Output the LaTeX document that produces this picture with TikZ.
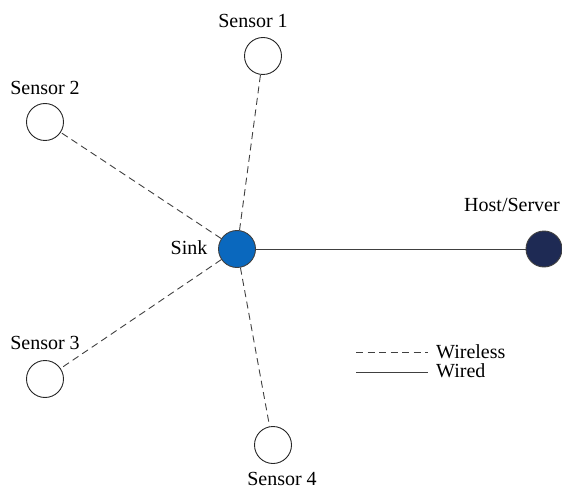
\documentclass[tikz,border=0pt]{standalone}
\usepackage{fontspec}
\setmainfont{Liberation Serif}
\begin{document}
\begin{tikzpicture}[x=1pt,y=-1pt,
  sensor/.style={circle,draw=black!85,line width=0.9pt,fill=white,minimum size=37pt,inner sep=0pt},
  sinknode/.style={circle,draw=black!75,line width=0.9pt,fill={rgb,255:red,10;green,104;blue,190},minimum size=37pt,inner sep=0pt},
  hostnode/.style={circle,draw=black!75,line width=0.9pt,fill={rgb,255:red,30;green,42;blue,84},minimum size=36pt,inner sep=0pt},
  lbl/.style={font=\fontsize{20}{22}\selectfont,inner sep=0pt},
  wireless/.style={draw=black!75,line width=0.9pt,dash pattern=on 7pt off 4.5pt},
  wired/.style={draw=black!75,line width=0.9pt}]
\useasboundingbox (0,0) rectangle (562,489);
% nodes
\node[sinknode] (sink) at (237,249) {};
\node[hostnode] (host) at (544,249) {};
\node[sensor] (s1) at (263,56) {};
\node[sensor] (s2) at (45,122) {};
\node[sensor] (s3) at (45,379) {};
\node[sensor] (s4) at (273,445) {};
% labels
\node[lbl] (l1) at (253,21) {Sensor 1};
\node[lbl] (l2) at (45,88) {Sensor 2};
\node[lbl] (l3) at (45,343) {Sensor 3};
\node[lbl] (l4) at (282,479) {Sensor 4};
\node[lbl] (lsink) at (189,248) {Sink};
\node[lbl] (lhost) at (512,205) {Host/Server};
% links
\draw[wireless] (sink) -- (s1);
\draw[wireless] (sink) -- (s2);
\draw[wireless] (sink) -- (s3);
\draw[wireless] (sink) -- (s4);
\draw[wired] (sink) -- (host);
% legend
\coordinate (wa) at (356,352);
\coordinate (wb) at (428,352);
\coordinate (da) at (356,372);
\coordinate (db) at (428,372);
\draw[wireless] (wa) -- (wb);
\draw[wired] (da) -- (db);
\node[lbl,anchor=west] (lw) at (436,352) {Wireless};
\node[lbl,anchor=west] (ld) at (436,371) {Wired};
\end{tikzpicture}
\end{document}
